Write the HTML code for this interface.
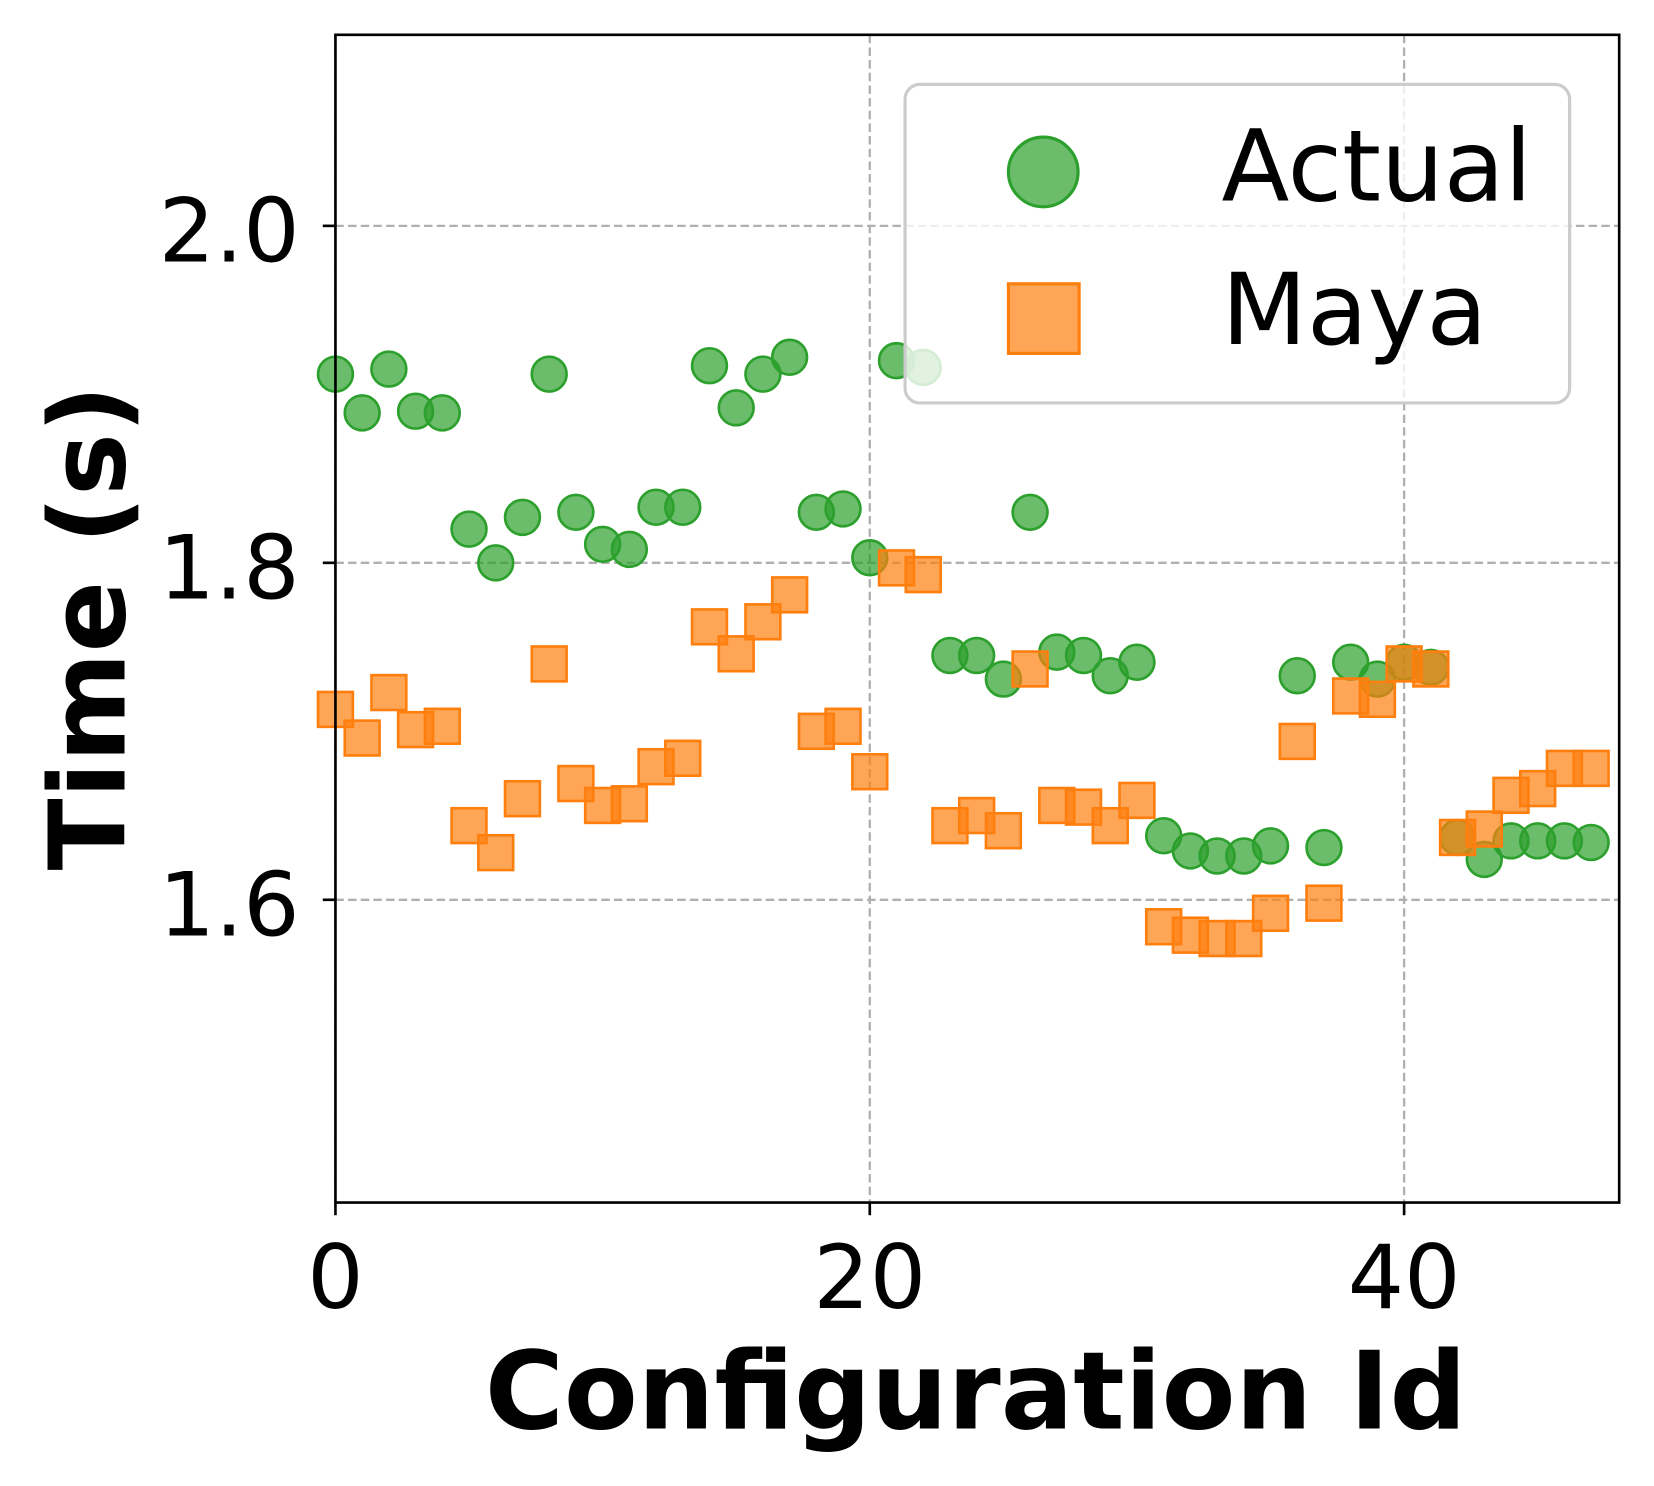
<!DOCTYPE html>
<html><head><meta charset="utf-8"><style>
html,body{margin:0;padding:0;background:#fff;}
svg{display:block;font-family:"DejaVu Sans","Liberation Sans",sans-serif;}
</style></head><body>
<svg id="chart" width="1654" height="1486" viewBox="0 0 1568 1408.7" preserveAspectRatio="none" xmlns="http://www.w3.org/2000/svg">
<g id="grid"></g>
<g id="marks"></g>
<rect x="318" y="33" width="1217" height="1107" fill="none" stroke="#000" stroke-width="2.5"/>
<g id="ticks"></g>
<text x="925" y="1354" text-anchor="middle" font-size="102" font-weight="bold">Configuration Id</text>
<text transform="translate(118,595) rotate(-90)" text-anchor="middle" font-size="100" font-weight="bold">Time (s)</text>
<g>
<rect x="858" y="80" width="630" height="302" rx="14" fill="#fff" fill-opacity="0.8" stroke="#ccc" stroke-width="3"/>
<circle cx="989" cy="163" r="33" fill="#2ca02c" fill-opacity="0.7" stroke="#2ca02c" stroke-width="3"/>
<text x="1158" y="190" font-size="94">Actual</text>
<rect x="956" y="269" width="67" height="66" fill="#ff7f0e" fill-opacity="0.7" stroke="#ff7f0e" stroke-width="3"/>
<text x="1158" y="326" font-size="94">Maya</text>
</g>
</svg>
<script>
const actual=[1.912,1.889,1.915,1.890,1.889,1.820,1.800,1.827,1.912,1.830,1.811,1.808,1.833,1.833,1.917,1.892,1.912,1.922,1.830,1.832,1.803,1.920,1.916,1.745,1.745,1.731,1.830,1.747,1.745,1.733,1.741,1.638,1.629,1.626,1.626,1.632,1.733,1.631,1.741,1.731,1.741,1.738,1.637,1.624,1.635,1.635,1.635,1.634];
const maya=[1.713,1.696,1.723,1.701,1.703,1.644,1.628,1.660,1.740,1.669,1.656,1.657,1.679,1.684,1.762,1.746,1.765,1.781,1.700,1.703,1.676,1.797,1.793,1.644,1.650,1.641,1.737,1.656,1.655,1.644,1.659,1.584,1.579,1.577,1.577,1.592,1.694,1.598,1.721,1.719,1.740,1.737,1.637,1.642,1.662,1.666,1.678,1.678];
const xTicks=[0,20,40];
const yTicks=[1.6,1.8,2.0];
const yTickLabels=["1.6","1.8","2.0"];
const L=318,R=1535,T=33,B=1140,X0=0,X1=48.05,Y0=1.4203,Y1=2.1134;
function sx(v){return L+(v-X0)/(X1-X0)*(R-L);}
function sy(v){return B-(v-Y0)/(Y1-Y0)*(B-T);}
const NS="http://www.w3.org/2000/svg";
function mk(tag,attrs,parent){const e=document.createElementNS(NS,tag);for(const k in attrs)e.setAttribute(k,attrs[k]);document.getElementById(parent).appendChild(e);return e;}
xTicks.forEach(t=>{const x=sx(t);
 const g=mk('line',{x1:x,x2:x,y1:T,y2:B,stroke:'#b0b0b0','stroke-width':2.2,'stroke-dasharray':'8,4'},'grid');
 
 
 const k=mk('line',{x1:x,x2:x,y1:B,y2:B+12,stroke:'#000','stroke-width':2.5},'ticks');
 
 
 const tx=mk('text',{x:x,y:1240,'text-anchor':'middle','font-size':84},'ticks');tx.textContent=t;
 
 
});
yTicks.forEach((t,i)=>{const y=sy(t);
 const g=mk('line',{x1:L,x2:R,y1:y,y2:y,stroke:'#b0b0b0','stroke-width':2.2,'stroke-dasharray':'8,4'},'grid');
 
 
 const k=mk('line',{x1:L-12,x2:L,y1:y,y2:y,stroke:'#000','stroke-width':2.5},'ticks');
 
 
 const tx=mk('text',{x:284,y:y+34,'text-anchor':'end','font-size':84},'ticks');tx.textContent=yTickLabels[i];
 
 
});
actual.forEach((v,i)=>{
 const c=mk('circle',{cx:sx(i),cy:sy(v),r:16.5,fill:'#2ca02c','fill-opacity':0.7,stroke:'#2ca02c','stroke-width':2.5},'marks');
 
 
});
maya.forEach((v,i)=>{
 const s=mk('rect',{x:sx(i)-16.5,y:sy(v)-16.5,width:33,height:33,fill:'#ff7f0e','fill-opacity':0.7,stroke:'#ff7f0e','stroke-width':2.5},'marks');
 
 
});
</script>
</body></html>
